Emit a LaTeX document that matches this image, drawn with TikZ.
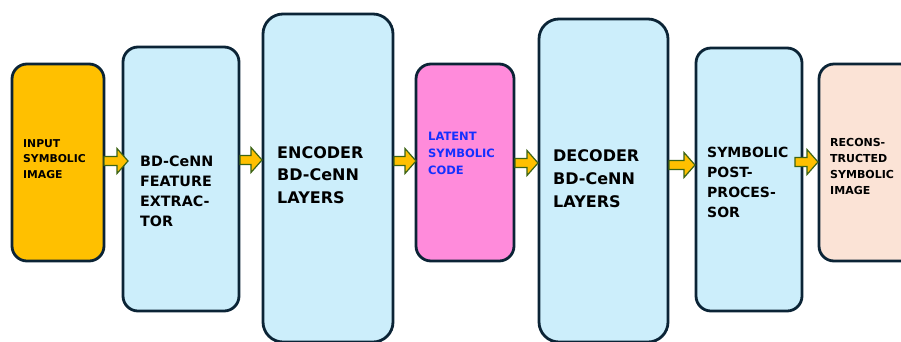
\documentclass[tikz,border=0pt]{standalone}
\usepackage{fontspec}
\setmainfont{DejaVu Sans}
\definecolor{edge}{HTML}{0B2436}
\definecolor{amber}{HTML}{FFC000}
\definecolor{skyfill}{HTML}{CCEEFB}
\definecolor{pinkfill}{HTML}{FF8BDB}
\definecolor{peachfill}{HTML}{FBE3D6}
\definecolor{arrowedge}{HTML}{3D6415}
\definecolor{codeblue}{HTML}{1430FF}
\begin{document}
\begin{tikzpicture}[x=1pt,y=-1pt,
  blk/.style={draw=edge,line width=2.8pt,rounded corners=15pt},
  bigblk/.style={blk,rounded corners=20pt},
  lbl/.style={anchor=base west,align=left,inner sep=0pt,font=\bfseries},
  fat/.style={fill=amber,draw=arrowedge,line width=1.2pt,line join=miter}]
\useasboundingbox (0,0) rectangle (901,341);
\fill[white] (0,0) rectangle (901,341);

% processing blocks
\draw[blk,fill=amber]     (12,64)  rectangle (104,261);
\draw[blk,fill=skyfill]   (123,47) rectangle (239,311);
\draw[bigblk,fill=skyfill](263,14) rectangle (393,342);
\draw[blk,fill=pinkfill]  (416,64) rectangle (514,261);
\draw[bigblk,fill=skyfill](539,19) rectangle (668,342);
\draw[blk,fill=skyfill]   (696,48) rectangle (802,311);
\draw[blk,fill=peachfill] (819,64) rectangle (915,261);

% block arrows between stages
\newcommand{\blockarrow}[3]{%
  \draw[fat] (#1,#3-4.5) -- (#2-11,#3-4.5) -- (#2-11,#3-12.5) -- (#2,#3)
    -- (#2-11,#3+12.5) -- (#2-11,#3+4.5) -- (#1,#3+4.5) -- cycle;}
\blockarrow{104}{128}{161}
\blockarrow{240}{262}{160}
\blockarrow{394}{416}{161}
\blockarrow{515}{538}{163}
\blockarrow{669}{695}{165}
\blockarrow{795}{818}{162}

% labels (anchored at the baseline of their last line)
\node[lbl,font=\bfseries\fontsize{10.8}{15.5}\selectfont] (tinp) at (23,178)
  {INPUT\\SYMBOLIC\\IMAGE};
\node[lbl,font=\bfseries\fontsize{14.3}{20}\selectfont] (tfex) at (140,226)
  {BD-CeNN\\FEATURE\\EXTRAC-\\TOR};
\node[lbl,font=\bfseries\fontsize{16}{22.5}\selectfont] (tenc) at (277,203)
  {ENCODER\\BD-CeNN\\LAYERS};
\node[lbl,text=codeblue,font=\bfseries\fontsize{11.5}{17}\selectfont] (tlat) at (428,174)
  {LATENT\\SYMBOLIC\\CODE};
\node[lbl,font=\bfseries\fontsize{16}{23}\selectfont] (tdec) at (553,207)
  {DECODER\\BD-CeNN\\LAYERS};
\node[lbl,font=\bfseries\fontsize{14}{19.7}\selectfont] (tpst) at (707,217)
  {SYMBOLIC\\POST-\\PROCES-\\SOR};
\node[lbl,font=\bfseries\fontsize{11}{15.7}\selectfont] (trec) at (830,194)
  {RECONS-\\TRUCTED\\SYMBOLIC\\IMAGE};
\end{tikzpicture}
\end{document}
